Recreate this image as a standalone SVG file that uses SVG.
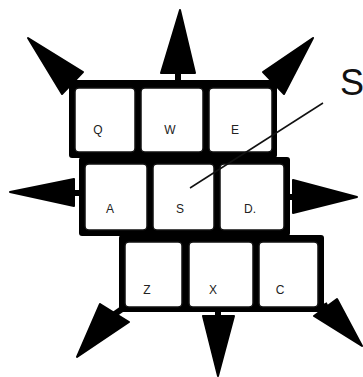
<svg xmlns="http://www.w3.org/2000/svg" width="363" height="377" viewBox="0 0 363 377">
<style>
.row{fill:#000}
.key{fill:#fff;stroke:#111;stroke-width:1.5}
.lbl{font-family:"Liberation Sans",Arial,sans-serif;font-size:12px;fill:#222;text-anchor:middle}
.arr{fill:#000;stroke:#000;stroke-width:2;stroke-linejoin:round}
.stem{stroke:#000;stroke-width:6}
</style>
<rect width="363" height="377" fill="#fff"/>
<g id="keyboard">
  <rect class="row" x="69" y="80" width="208" height="78" rx="3"/>
  <rect class="row" x="79" y="157" width="211" height="79" rx="3"/>
  <rect class="row" x="119" y="235" width="205" height="77" rx="3"/>
</g>
<g id="key-Q"><rect class="key" x="75" y="88" width="60" height="64" rx="4"/><text class="lbl" x="98" y="134">Q</text></g>
<g id="key-W"><rect class="key" x="141" y="88" width="62" height="64" rx="4"/><text class="lbl" x="170" y="134">W</text></g>
<g id="key-E"><rect class="key" x="209" y="88" width="63" height="64" rx="4"/><text class="lbl" x="235" y="134">E</text></g>
<g id="key-A"><rect class="key" x="85" y="164" width="62" height="66" rx="4"/><text class="lbl" x="110" y="213">A</text></g>
<g id="key-S"><rect class="key" x="153" y="164" width="61" height="66" rx="4"/><text class="lbl" x="180" y="213">S</text></g>
<g id="key-D"><rect class="key" x="220" y="164" width="64" height="66" rx="4"/><text class="lbl" x="250" y="213">D.</text></g>
<g id="key-Z"><rect class="key" x="125" y="242" width="57" height="65" rx="4"/><text class="lbl" x="147" y="294">Z</text></g>
<g id="key-X"><rect class="key" x="189" y="242" width="64" height="65" rx="4"/><text class="lbl" x="213" y="294">X</text></g>
<g id="key-C"><rect class="key" x="259" y="242" width="59" height="65" rx="4"/><text class="lbl" x="280" y="294">C</text></g>
<g id="label-S">
  <text x="340" y="95" font-family="Liberation Sans,Arial,sans-serif" font-size="36" fill="#111">S</text>
</g>
<g id="connectors">
  <line class="stem" x1="72" y1="83" x2="62" y2="74"/>
  <polygon class="arr" points="28,38 83,72 62,94"/>
  <line class="stem" x1="178" y1="82" x2="178" y2="70"/>
  <polygon class="arr" points="180,10 161,73 195,73"/>
  <line class="stem" x1="275" y1="83" x2="285" y2="74"/>
  <polygon class="arr" points="313,38 263,72 284,94"/>
  <line class="stem" x1="82" y1="193" x2="70" y2="193"/>
  <polygon class="arr" points="10,192 74,179 74,206"/>
  <line class="stem" x1="288" y1="197" x2="298" y2="197"/>
  <polygon class="arr" points="357,197 293,180 293,213"/>
  <line class="stem" x1="122" y1="309" x2="112" y2="316"/>
  <polygon class="arr" points="77,357 100,304 129,322"/>
  <line class="stem" x1="218" y1="309" x2="218" y2="318"/>
  <polygon class="arr" points="218,376 203,316 234,316"/>
  <line class="stem" x1="320" y1="309" x2="328" y2="305"/>
  <polygon class="arr" points="362,346 314,316 337,299"/>
  <line x1="323" y1="103" x2="190" y2="188" stroke="#111" stroke-width="1.5"/>
</g>
</svg>
